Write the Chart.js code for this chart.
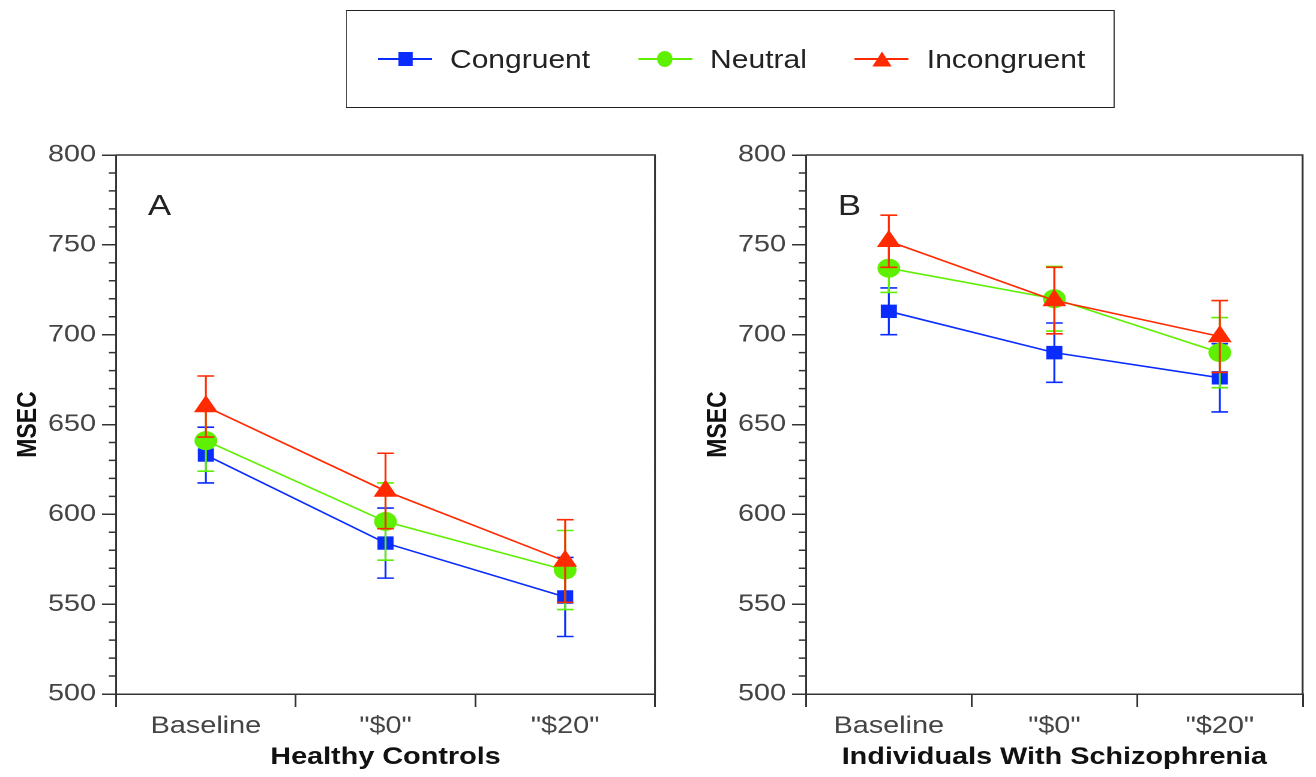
<!DOCTYPE html>
<html>
<head>
<meta charset="utf-8">
<script src="https://cdn.jsdelivr.net/npm/chart.js@4.4.1/dist/chart.umd.min.js"></script>
<style>
  html, body { margin: 0; padding: 0; background: #fff; overflow: hidden; }
  /* the source figure is stretched sideways, so the whole page is too */
  #page { position: absolute; left: 0; top: 0; width: 1097px; height: 777px; transform: scaleX(1.2); transform-origin: 0 0; }
  #wrapA { position: absolute; left: 0; top: 0; width: 560px; height: 777px; }
  #wrapB { position: absolute; left: 560px; top: 0; width: 537px; height: 777px; }
  #legend { position: absolute; left: 288px; top: 10px; width: 641px; height: 98px; box-sizing: border-box;
            border: 1.5px solid #222; display: flex; align-items: center; padding-left: 26px; z-index: 2; }
  .item { display: flex; align-items: center; margin-right: 40px; }
  .sym { position: relative; width: 45px; height: 20px; margin-right: 15px; }
  .sym .ln { position: absolute; left: 0; right: 0; top: 9px; height: 1.6px; }
  .sym .mk { position: absolute; left: 50%; top: 50%; transform: translate(-50%, -50%); }
  .txt { font-family: "Liberation Sans", Arial, sans-serif; font-size: 25px; color: #222; }
</style>
</head>
<body>
<div id="page">
  <div id="legend"></div>
  <div id="wrapA"><canvas id="chartA" width="560" height="777"></canvas></div>
  <div id="wrapB"><canvas id="chartB" width="537" height="777"></canvas></div>
</div>
<script>
// categories and series
const categories = ['Baseline', '"$0"', '"$20"'];
const seriesNames = ['Congruent', 'Neutral', 'Incongruent'];

// Panel A - Healthy Controls (means and error bar half-lengths, msec)
const controlsCongruent = [633, 584, 554];
const controlsNeutral = [641, 596, 569];
const controlsIncongruent = [660, 613, 574];
const controlsCongruentErr = [15.5, 19.5, 22];
const controlsNeutralErr = [17, 21.5, 22];
const controlsIncongruentErr = [17, 21, 23];

// Panel B - Individuals With Schizophrenia
const patientsCongruent = [713, 690, 676];
const patientsNeutral = [737, 720, 690];
const patientsIncongruent = [752, 719, 699];
const patientsCongruentErr = [13, 16.5, 19];
const patientsNeutralErr = [13.5, 18, 19.5];
const patientsIncongruentErr = [14.5, 18.5, 20];

const yMin = 500, yMax = 800, yStep = 50, yMinorStep = 10;

const colors = ['#0a2cff', '#5ef000', '#ff2a00'];
const pointStyles = ['rect', 'circle', 'triangle'];
const pointSizes = [9.5, 9.5, 11.5];
const axisColor = '#333';
const fontFamily = '"Liberation Sans", Arial, sans-serif';

// legend box (HTML, shared by both panels)
const legendEl = document.getElementById('legend');
seriesNames.forEach((name, i) => {
  const item = document.createElement('div');
  item.className = 'item';
  const sym = document.createElement('div');
  sym.className = 'sym';
  const ln = document.createElement('div');
  ln.className = 'ln';
  ln.style.background = colors[i];
  const mk = document.createElement('div');
  mk.className = 'mk';
  if (pointStyles[i] === 'rect') {
    mk.style.cssText += 'width:12px;height:14px;background:' + colors[i];
  } else if (pointStyles[i] === 'circle') {
    mk.style.cssText += 'width:13px;height:16px;border-radius:50%;background:' + colors[i];
  } else {
    mk.style.cssText += 'width:0;height:0;border-left:8px solid transparent;border-right:8px solid transparent;border-bottom:15px solid ' + colors[i];
  }
  sym.appendChild(ln);
  sym.appendChild(mk);
  const txt = document.createElement('span');
  txt.className = 'txt';
  txt.textContent = name;
  item.appendChild(sym);
  item.appendChild(txt);
  legendEl.appendChild(item);
});

// error bars, minor ticks, frame and panel letter
function panelExtras(errors, letter) {
  return {
    id: 'panelExtras',
    afterDatasetDraw(chart, args) {
      const ctx = chart.ctx;
      const x = chart.scales.x, y = chart.scales.y;
      const ds = chart.data.datasets[args.index];
      const err = errors[args.index];
      ctx.save();
      ctx.strokeStyle = ds.borderColor;
      ctx.lineWidth = 1.6;
      ds.data.forEach((v, j) => {
        const px = x.getPixelForValue(j);
        const top = y.getPixelForValue(v + err[j]);
        const bot = y.getPixelForValue(v - err[j]);
        ctx.beginPath();
        ctx.moveTo(px, top); ctx.lineTo(px, bot);
        ctx.moveTo(px - 7, top); ctx.lineTo(px + 7, top);
        ctx.moveTo(px - 7, bot); ctx.lineTo(px + 7, bot);
        ctx.stroke();
      });
      ctx.restore();
    },
    afterDraw(chart) {
      const ctx = chart.ctx;
      const a = chart.chartArea;
      const y = chart.scales.y;
      ctx.save();
      ctx.strokeStyle = axisColor;
      ctx.lineWidth = 1.5;
      ctx.beginPath();
      ctx.moveTo(a.left, a.top); ctx.lineTo(a.right, a.top); ctx.lineTo(a.right, a.bottom);
      for (let v = yMin; v <= yMax; v += yMinorStep) {
        if (v % yStep === 0) continue;
        const py = y.getPixelForValue(v);
        ctx.moveTo(a.left - 6, py); ctx.lineTo(a.left, py);
      }
      ctx.stroke();
      ctx.fillStyle = '#222';
      ctx.font = '29px ' + fontFamily;
      ctx.textBaseline = 'middle';
      ctx.fillText(letter, a.left + 26.5, 207);
      ctx.restore();
    }
  };
}

function makePanel(canvasId, values, errors, xTitle, letter, yAxisWidth, yTitlePad, rightPad) {
  const ctx = document.getElementById(canvasId).getContext('2d');
  return new Chart(ctx, {
    type: 'line',
    data: {
      labels: categories,
      datasets: seriesNames.map((name, i) => ({
        label: name,
        data: values[i],
        borderColor: colors[i],
        backgroundColor: colors[i],
        borderWidth: 1.6,
        pointStyle: pointStyles[i],
        pointRadius: pointSizes[i],
        pointBackgroundColor: colors[i],
        pointBorderColor: colors[i],
        pointBorderWidth: 0,
        tension: 0,
        order: seriesNames.length - i
      }))
    },
    options: {
      responsive: false,
      animation: false,
      devicePixelRatio: 2,
      layout: { padding: { top: 155, right: rightPad, left: 0, bottom: 0 } },
      plugins: { legend: { display: false }, tooltip: { enabled: false } },
      scales: {
        x: {
          type: 'category',
          offset: true,
          afterFit: (scale) => { scale.height = 83; },
          grid: { offset: true, drawOnChartArea: false, tickLength: 13, color: axisColor, lineWidth: 1.5 },
          border: { color: axisColor, width: 1.5 },
          ticks: { color: '#444', padding: 5, font: { family: fontFamily, size: 24 } },
          title: { display: true, text: xTitle, color: '#111', padding: { top: 0, bottom: 5 },
                   font: { family: fontFamily, size: 24, weight: 'bold' } }
        },
        y: {
          min: yMin,
          max: yMax,
          afterFit: (scale) => { scale.width = yAxisWidth; },
          grid: { drawOnChartArea: false, tickLength: 11.7, color: axisColor, lineWidth: 1.5 },
          border: { color: axisColor, width: 1.5 },
          ticks: { stepSize: yStep, color: '#444', padding: 5, font: { family: fontFamily, size: 24 } },
          title: { display: true, text: 'MSEC', color: '#111', padding: { top: yTitlePad, bottom: 0 },
                   font: { family: fontFamily, size: 23, weight: 'bold' } }
        }
      }
    },
    plugins: [panelExtras(errors, letter)]
  });
}

const chartA = makePanel('chartA',
  [controlsCongruent, controlsNeutral, controlsIncongruent],
  [controlsCongruentErr, controlsNeutralErr, controlsIncongruentErr],
  'Healthy Controls', 'A', 96.7, 10, 14.2);

const chartB = makePanel('chartB',
  [patientsCongruent, patientsNeutral, patientsIncongruent],
  [patientsCongruentErr, patientsNeutralErr, patientsIncongruentErr],
  'Individuals With Schizophrenia', 'B', 111.7, 25, 10.3);
</script>
</body>
</html>
